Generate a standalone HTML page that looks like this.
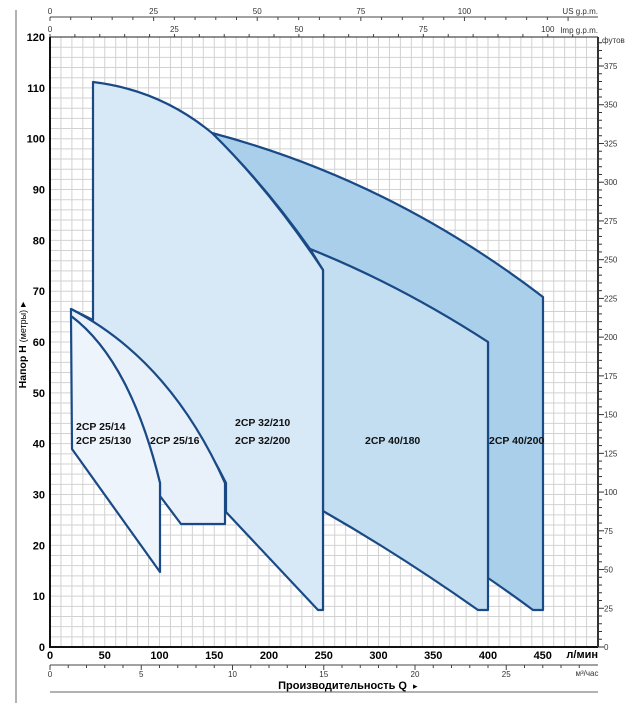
<!DOCTYPE html>
<html><head><meta charset="utf-8"><style>
body{margin:0;background:#fff;width:638px;height:712px;overflow:hidden}
svg{display:block;font-family:"Liberation Sans",sans-serif}
</style></head><body>
<svg id="s" width="638" height="712" viewBox="0 0 638 712">
<line x1="16" y1="10" x2="16" y2="703" stroke="#999" stroke-width="1.5"/>
<line x1="50" y1="692" x2="598" y2="692" stroke="#999" stroke-width="1.5"/>
<g id="grid" stroke="#d2d2d2" stroke-width="1"></g>
<g stroke="#1a4a85" stroke-width="2.2" stroke-linejoin="round">
<path fill="#a9cfea" d="M212,133 Q390,180 543,297 L543,610 L533,610 Q510,593 488,578 L488,342 Q400,285 310,249 Q265,185 212,133 Z"/>
<path fill="#c3ddf1" d="M310,249 Q400,285 488,342 L488,610 L478,610 Q400,555 323,511 L323,270 Z"/>
<path fill="#d7e8f6" d="M93,82 Q160,90 212,133 Q270,190 323,270 L323,610 L318,610 L226,512 L226,483 Q170,370 71,309 L93,320 Z"/>
<path fill="#e8f1fa" d="M71,309 Q170,360 225,483 L225,524 L181,524 L160,496 L160,483 Q130,360 71,316 Z"/>
<path fill="#edf4fb" d="M71,316 Q130,360 160,483 L160,572 L72,449 Z"/>
</g>
<g font-weight="bold" font-size="10.5" fill="#111">
<text x="76" y="430">2CP 25/14</text><text x="76" y="444">2CP 25/130</text>
<text x="150" y="444">2CP 25/16</text>
<text x="235" y="426">2CP 32/210</text><text x="235" y="444">2CP 32/200</text>
<text x="365" y="444">2CP 40/180</text>
<text x="489" y="444">2CP 40/200</text>
</g>
<g id="ax"></g>
<line x1="50" y1="37" x2="50" y2="648" stroke="#111" stroke-width="2"/>
<line x1="49" y1="647" x2="598" y2="647" stroke="#111" stroke-width="2"/>
<line x1="50" y1="37" x2="598" y2="37" stroke="#222" stroke-width="1"/>
<line x1="598" y1="37" x2="598" y2="647" stroke="#333" stroke-width="2"/>
<line x1="50" y1="17" x2="598" y2="17" stroke="#444" stroke-width="1"/>
<line x1="50" y1="665" x2="598" y2="665" stroke="#444" stroke-width="1"/>
<g font-size="8" fill="#333">
<text x="598" y="14" text-anchor="end">US g.p.m.</text>
<text x="598" y="33" text-anchor="end">Imp g.p.m.</text>
<text x="602" y="43">футов</text>
<text x="587" y="676" text-anchor="middle">м³/час</text>
</g>
<text x="598" y="658" text-anchor="end" font-size="11" font-weight="bold">л/мин</text>
<text x="407" y="689" text-anchor="end" font-size="11" font-weight="bold">Производительность Q</text>
<text x="413" y="689" font-size="9">▸</text>
<text transform="translate(26,345) rotate(-90)" text-anchor="middle" font-size="10.5"><tspan font-weight="bold">Напор H</tspan> <tspan font-size="9">(метры)</tspan> ▸</text>
</svg>
<script>
var ns="http://www.w3.org/2000/svg";
function el(p,t,a,txt){var e=document.createElementNS(ns,t);for(var k in a)e.setAttribute(k,a[k]);if(txt!=null)e.textContent=txt;p.appendChild(e);return e;}
var g=document.getElementById('grid'),ax=document.getElementById('ax');
var X=function(q){return 50+q*1.095},Y=function(h){return 647-h*5.083};
for(var q=10;q<=500;q+=10){var x=X(q);if(x>597)break;el(g,'line',{x1:x,y1:37,x2:x,y2:647});}
for(var h=2;h<120;h+=2){el(g,'line',{x1:50,y1:Y(h),x2:598,y2:Y(h)});}
for(var h=0;h<=120;h+=10){el(ax,'text',{x:45,y:Y(h)+4,'text-anchor':'end','font-size':'11','font-weight':'bold'},h);}
for(var q=0;q<=450;q+=50){el(ax,'text',{x:X(q),y:659,'text-anchor':'middle','font-size':'11','font-weight':'bold'},q);}
for(var m=0;m<=29;m++){var x=X(m*16.667);el(ax,'line',{x1:x,y1:665,x2:x,y2:m%5?668:670,stroke:'#444'});if(m%5==0)el(ax,'text',{x:x,y:677,'text-anchor':'middle','font-size':'8',fill:'#333'},m);}
for(var u=0;u<=125;u+=5){var x=X(u*3.785);if(x>590)break;el(ax,'line',{x1:x,y1:17,x2:x,y2:u%25?20:21,stroke:'#444'});if(u%25==0&&u<=100)el(ax,'text',{x:x,y:14,'text-anchor':'middle','font-size':'8',fill:'#333'},u);}
for(var u=0;u<=105;u+=5){var x=X(u*4.546);if(x>590)break;el(ax,'line',{x1:x,y1:37,x2:x,y2:34,stroke:'#444'});if(u%25==0)el(ax,'text',{x:x,y:32,'text-anchor':'middle','font-size':'8',fill:'#333'},u);}
for(var f=0;f<=395;f+=5){var y=Y(f*0.3048);if(y<38)break;el(ax,'line',{x1:598,y1:y,x2:f%25?602:604,y2:y,stroke:'#333'});if(f%25==0)el(ax,'text',{x:604,y:y+3,'font-size':'8',fill:'#333'},f);}
</script>
</body></html>
